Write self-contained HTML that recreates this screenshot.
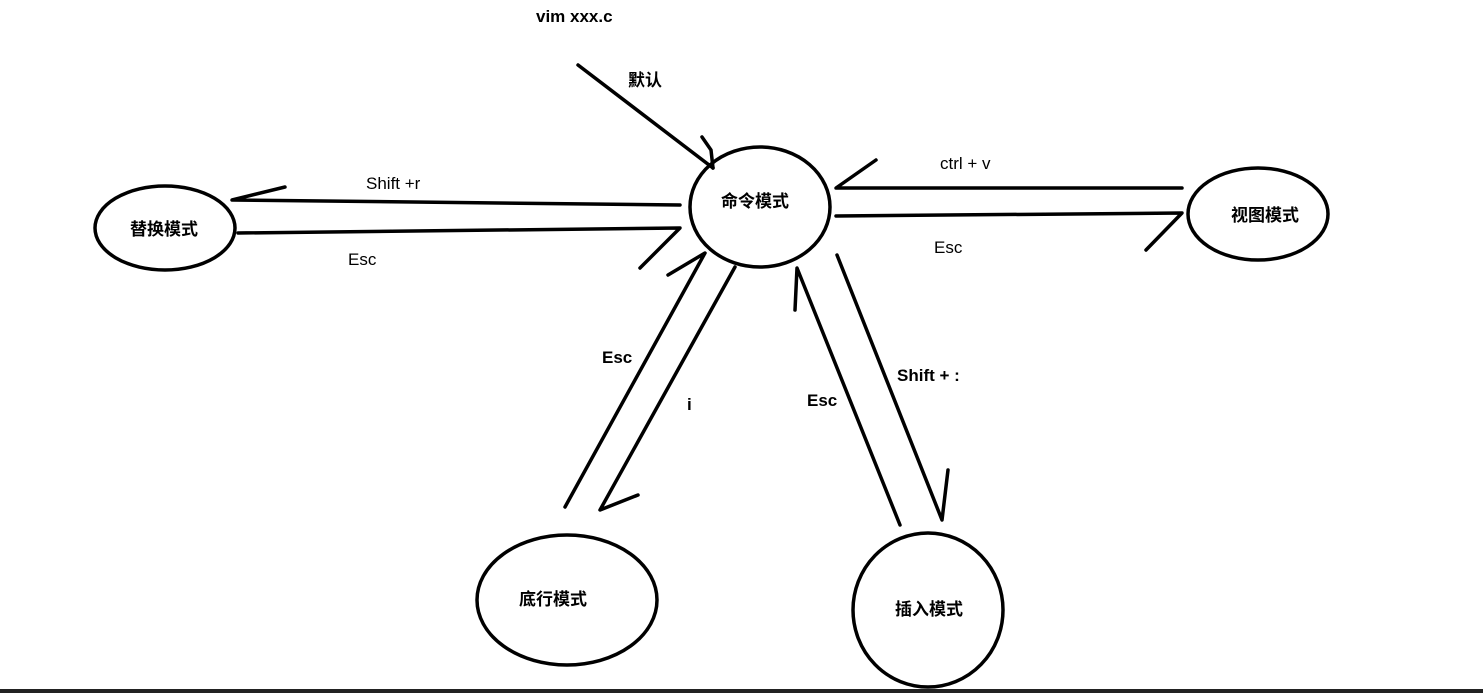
<!DOCTYPE html>
<html><head><meta charset="utf-8"><style>
html,body{margin:0;padding:0;background:#fff;width:1483px;height:693px;overflow:hidden}
text{font-family:"Liberation Sans","Noto Sans CJK SC",sans-serif;fill:#000}
</style></head><body>
<svg width="1483" height="693" viewBox="0 0 1483 693" xmlns="http://www.w3.org/2000/svg">
<g fill="none" stroke="#000" stroke-width="3.5" stroke-linecap="round" stroke-linejoin="round">
<ellipse cx="165" cy="228" rx="70" ry="42"/>
<ellipse cx="760" cy="207" rx="70" ry="60"/>
<ellipse cx="1258" cy="214" rx="70" ry="46"/>
<ellipse cx="567" cy="600" rx="90" ry="65"/>
<ellipse cx="928" cy="610" rx="75" ry="77"/>
<!-- default -->
<polyline points="578,65 713,168"/>
<polyline points="702,137 711,150 713,168"/>
<!-- shift+r -->
<polyline points="680,205 232,200 285,187"/>
<!-- esc left -->
<polyline points="238,233 680,228 640,268"/>
<!-- ctrl+v -->
<polyline points="1182,188 836,188 876,160"/>
<!-- esc right -->
<polyline points="836,216 1182,213 1146,250"/>
<!-- bottom-left -->
<polyline points="565,507 705,253 668,275"/>
<polyline points="735,267 600,510 638,495"/>
<!-- insert -->
<polyline points="900,525 797,268 795,310"/>
<polyline points="837,255 942,520 948,470"/>
</g>
<rect x="0" y="689" width="1483" height="4" fill="#222"/>
<g font-size="17" font-weight="bold">
<text x="536" y="22">vim xxx.c</text>
<text x="628" y="86">默认</text>
<text x="130" y="235">替换模式</text>
<text x="721" y="207">命令模式</text>
<text x="1231" y="221">视图模式</text>
<text x="519" y="605">底行模式</text>
<text x="895" y="615">插入模式</text>
<text x="602" y="363">Esc</text>
<text x="687" y="410">i</text>
<text x="807" y="406">Esc</text>
<text x="897" y="381">Shift + :</text>
</g>
<g font-size="17">
<text x="366" y="189">Shift +r</text>
<text x="348" y="265">Esc</text>
<text x="940" y="169">ctrl + v</text>
<text x="934" y="253">Esc</text>
</g>
</svg>
</body></html>
